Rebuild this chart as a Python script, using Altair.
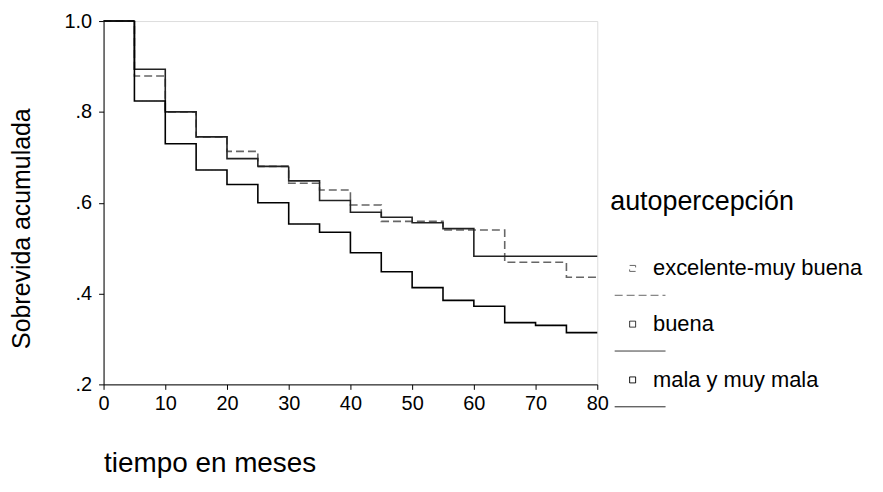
import altair as alt
import pandas as pd

# Kaplan-Meier step values
times = [0, 5, 10, 15, 20, 25, 30, 35, 40, 45, 50, 55, 60, 65, 70, 75, 80]
groups = ["excelente-muy buena", "buena", "mala y muy mala"]
excelente = [1.0, 0.879, 0.80, 0.745, 0.713, 0.68, 0.643, 0.628, 0.595, 0.559,
             0.559, 0.54, 0.54, 0.469, 0.469, 0.436, 0.436]
buena = [1.0, 0.894, 0.80, 0.745, 0.697, 0.68, 0.648, 0.605, 0.579, 0.568,
         0.556, 0.543, 0.482, 0.482, 0.482, 0.482, 0.482]
mala = [1.0, 0.824, 0.73, 0.672, 0.64, 0.60, 0.553, 0.535, 0.49, 0.448,
        0.413, 0.385, 0.372, 0.336, 0.33, 0.314, 0.314]
x_ticks = [0, 10, 20, 30, 40, 50, 60, 70, 80]
y_ticks = [0.2, 0.4, 0.6, 0.8, 1.0]

rows = []
for g, vals in zip(groups, [excelente, buena, mala]):
    for t, v in zip(times, vals):
        rows.append({"tiempo": t, "sobrevida": v, "grupo": g})
df = pd.DataFrame(rows)

FONT = "Liberation Sans"

# legend symbol: small square marker plus a line sample below it
legend_symbol = "M0.267,-0.2H0.667V0.2H0.267Z M-0.733,1.8H2.667"

legend = alt.Legend(title="autopercepción", orient="none",
                    legendX=509, legendY=169,
                    titleFontSize=27, titleFontWeight="normal",
                    titleColor="black", titlePadding=37, titleLimit=0,
                    labelFontSize=22, labelColor="black", labelLimit=0,
                    symbolType=legend_symbol, symbolSize=900,
                    symbolStrokeWidth=1, symbolFillColor="white",
                    symbolOffset=0, labelOffset=12,
                    rowPadding=11)

chart = alt.Chart(df).mark_line(interpolate="step-after", strokeWidth=1.6).encode(
    x=alt.X("tiempo:Q",
            scale=alt.Scale(domain=[0, 80], nice=False, zero=False),
            axis=alt.Axis(values=x_ticks, title="tiempo en meses", grid=False,
                          titleAnchor="start", titleAlign="left", titleX=0, titleY=80,
                          titleBaseline="middle", titleFontSize=28, titleFontWeight="normal",
                          labelFontSize=20, labelPadding=4, tickSize=5,
                          domainColor="black", tickColor="black", labelColor="black",
                          titleColor="black", labelFlush=False)),
    y=alt.Y("sobrevida:Q",
            scale=alt.Scale(domain=[0.2, 1.0], nice=False, zero=False),
            axis=alt.Axis(values=y_ticks, title="Sobrevida acumulada", grid=False,
                          labelExpr="datum.value >= 1 ? '1.0' : '.' + round(datum.value * 10)",
                          titleAnchor="middle", titleX=-82, titleY=208, titleAngle=-90,
                          titleBaseline="middle", titleAlign="center",
                          titleFontSize=25, titleFontWeight="normal",
                          labelFontSize=20, labelPadding=7, tickSize=5,
                          domainColor="black", tickColor="black", labelColor="black",
                          titleColor="black", labelFlush=False)),
    color=alt.Color("grupo:N",
                    scale=alt.Scale(domain=groups, range=["#666666", "#222222", "#000000"]),
                    legend=legend),
    strokeDash=alt.StrokeDash("grupo:N",
                              scale=alt.Scale(domain=groups, range=[[8, 4], [1, 0], [1, 0]]),
                              legend=legend),
).properties(
    width=496, height=365,
    autosize=alt.AutoSizeParams(type="none"),
    padding={"left": 96, "top": 12, "right": 279, "bottom": 106},
).configure_view(
    stroke="black", strokeWidth=1.5
).configure(
    font=FONT, background="white"
)

chart.save("out.html", embed_options={"renderer": "svg", "actions": False})
